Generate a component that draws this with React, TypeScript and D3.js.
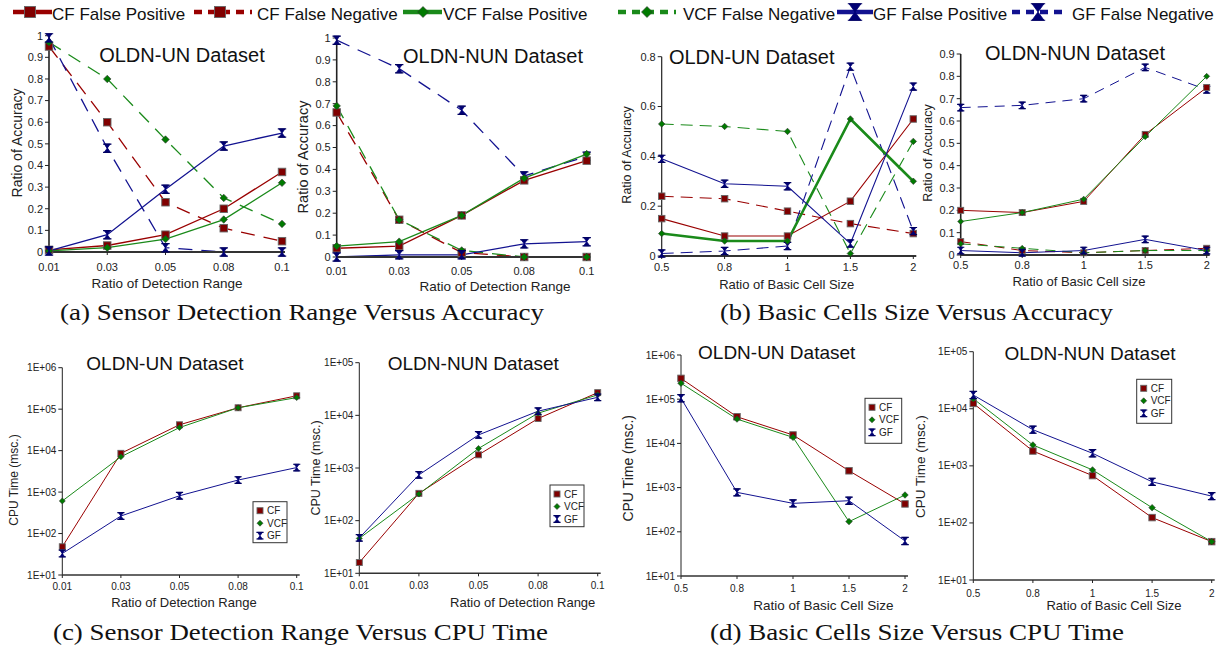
import React from "react";
import * as d3 from "d3";

// categories
const rangeCats = ["0.01", "0.03", "0.05", "0.08", "0.1"];
const cellCats = ["0.5", "0.8", "1", "1.5", "2"];

// (a) accuracy vs detection range, OLDN-UN
const rangeUnCfFp = [0.01, 0.03, 0.08, 0.2, 0.37];
const rangeUnCfFn = [0.95, 0.6, 0.23, 0.11, 0.05];
const rangeUnVcfFp = [0.005, 0.02, 0.06, 0.15, 0.32];
const rangeUnVcfFn = [0.97, 0.8, 0.52, 0.25, 0.13];
const rangeUnGfFp = [0.005, 0.08, 0.29, 0.49, 0.55];
const rangeUnGfFn = [0.99, 0.48, 0.02, 0, 0];
// (a) OLDN-NUN
const rangeNunCfFp = [0.04, 0.05, 0.19, 0.35, 0.44];
const rangeNunCfFn = [0.66, 0.17, 0.02, 0, 0];
const rangeNunVcfFp = [0.05, 0.07, 0.19, 0.36, 0.47];
const rangeNunVcfFn = [0.69, 0.17, 0.03, 0, 0];
const rangeNunGfFp = [0, 0.01, 0.01, 0.06, 0.07];
const rangeNunGfFn = [0.99, 0.86, 0.67, 0.37, 0.46];

// (b) accuracy vs cell size, OLDN-UN
const cellUnCfFp = [0.15, 0.08, 0.08, 0.22, 0.55];
const cellUnCfFn = [0.24, 0.23, 0.18, 0.13, 0.09];
const cellUnVcfFp = [0.09, 0.06, 0.06, 0.55, 0.3];
const cellUnVcfFn = [0.53, 0.52, 0.5, 0.01, 0.46];
const cellUnGfFp = [0.39, 0.29, 0.28, 0.05, 0.68];
const cellUnGfFn = [0.01, 0.02, 0.04, 0.76, 0.1];
// (b) OLDN-NUN
const cellNunCfFp = [0.2, 0.19, 0.24, 0.54, 0.75];
const cellNunCfFn = [0.06, 0.02, 0.01, 0.02, 0.03];
const cellNunVcfFp = [0.15, 0.19, 0.25, 0.53, 0.8];
const cellNunVcfFn = [0.05, 0.03, 0.01, 0.02, 0.02];
const cellNunGfFp = [0.02, 0.01, 0.02, 0.07, 0.02];
const cellNunGfFn = [0.66, 0.67, 0.7, 0.84, 0.74];

// (c) cpu time vs detection range
const cpuRangeUnCf = [48, 8600, 42000, 108000, 210000];
const cpuRangeUnVcf = [610, 7100, 36000, 108000, 190000];
const cpuRangeUnGf = [33, 265, 815, 1950, 3900];
const cpuRangeNunCf = [16, 330, 1780, 8700, 27000];
const cpuRangeNunVcf = [46, 320, 2350, 11000, 24500];
const cpuRangeNunGf = [47, 740, 4250, 12000, 22000];

// (d) cpu time vs cell size
const cpuCellUnCf = [296000, 40000, 15500, 2400, 427];
const cpuCellUnVcf = [230000, 35500, 13700, 170, 680];
const cpuCellUnGf = [105000, 780, 440, 505, 62];
const cpuCellNunCf = [12400, 1820, 675, 124, 47];
const cpuCellNunVcf = [15000, 2320, 850, 185, 47];
const cpuCellNunGf = [17400, 4300, 1660, 525, 295];

const accTicksA = d3.range(0, 11).map((d) => d / 10);
const accTicksB1 = [0, 0.2, 0.4, 0.6, 0.8];
const accTicksB2 = d3.range(0, 10).map((d) => d / 10);

const RED = "#990000";
const GREEN = "#1a8a1a";
const BLUE = "#121290";
const SANS = "'Liberation Sans', Arial, sans-serif";

type MarkerType = "square" | "diamond" | "hourglass";
type Series = { values: number[]; color: string; dashed: boolean; marker: MarkerType; width: number };

const Marker = ({ type, x, y, s }: { type: MarkerType; x: number; y: number; s: number }) => {
  if (type === "square")
    return <rect x={x - s / 2} y={y - s / 2} width={s} height={s} fill="#800000" stroke="#666" strokeWidth={0.9} />;
  if (type === "diamond") {
    const h = s / 2;
    return (
      <path d={`M${x},${y - h}L${x + h},${y}L${x},${y + h}L${x - h},${y}Z`} fill="#007a00" stroke="#333" strokeWidth={0.6} />
    );
  }
  const w = s * 0.4;
  const h = s * 0.55;
  return (
    <g>
      <path d={`M${x - w},${y - h}L${x + w},${y - h}L${x},${y}Z M${x - w},${y + h}L${x + w},${y + h}L${x},${y}Z`} fill="#000075" stroke="#000075" strokeWidth={0.8} />
      <path d={`M${x - w - 1.2},${y - h}H${x + w + 1.2}M${x - w - 1.2},${y + h}H${x + w + 1.2}`} stroke="#000060" strokeWidth={1.2} />
    </g>
  );
};

const accSeries = (
  cfFp: number[], cfFn: number[], vcfFp: number[], vcfFn: number[], gfFp: number[], gfFn: number[], w: number, vcfFpW = w
): Series[] => [
  { values: cfFn, color: RED, dashed: true, marker: "square", width: w },
  { values: vcfFn, color: GREEN, dashed: true, marker: "diamond", width: w },
  { values: gfFn, color: BLUE, dashed: true, marker: "hourglass", width: w },
  { values: cfFp, color: RED, dashed: false, marker: "square", width: w },
  { values: vcfFp, color: GREEN, dashed: false, marker: "diamond", width: vcfFpW },
  { values: gfFp, color: BLUE, dashed: false, marker: "hourglass", width: w },
];

const cpuSeries = (cf: number[], vcf: number[], gf: number[]): Series[] => [
  { values: cf, color: RED, dashed: false, marker: "square", width: 1 },
  { values: vcf, color: GREEN, dashed: false, marker: "diamond", width: 1 },
  { values: gf, color: BLUE, dashed: false, marker: "hourglass", width: 1 },
];

type PanelCfg = {
  cats: string[];
  x0: number; x1: number; yTop: number; yBot: number;
  log: boolean; domain: [number, number]; ticks: number[];
  series: Series[];
  dash?: string; ms: number;
  title: string; titleX: number; titleY: number; titleFs: number;
  xLabel: string; xLabelX: number; xLabelY: number; xFs: number;
  yLabel: string; yLabelX: number; yLabelY: number; yFs: number;
  tickY: number; tickFs: number;
  axisW: number;
  legend?: { x: number; y: number; w: number; h: number };
};

const Panel = ({ p }: { p: PanelCfg }) => {
  const x = d3.scalePoint<string>().domain(p.cats).range([p.x0, p.x1]);
  const y = p.log
    ? d3.scaleLog().domain(p.domain).range([p.yBot, p.yTop])
    : d3.scaleLinear().domain(p.domain).range([p.yBot, p.yTop]);
  const line = d3.line<number>().x((_, i) => x(p.cats[i]) as number).y((d) => y(d));
  const fmt = (t: number) => (p.log ? `1E+0${Math.round(Math.log10(t))}` : String(+t.toFixed(1)));
  return (
    <g fontFamily={SANS}>
      {p.series.map((s, i) => (
        <path key={i} d={line(s.values) || ""} fill="none" stroke={s.color} strokeWidth={s.width}
          strokeDasharray={s.dashed ? p.dash : undefined} />
      ))}
      <line x1={p.x0} x2={p.x0} y1={p.yBot} y2={p.yTop} stroke="#222" strokeWidth={p.axisW} />
      <line x1={p.x0} x2={p.x1 + 3} y1={p.yBot} y2={p.yBot} stroke="#333" strokeWidth={p.axisW + 0.6} />
      {p.ticks.map((t) => (
        <g key={t}>
          <line x1={p.x0 - 4} x2={p.x0} y1={y(t)} y2={y(t)} stroke="#222" strokeWidth={1} />
          <text x={p.x0 - 6} y={y(t)} dy="0.35em" textAnchor="end" fontSize={p.tickFs} fill="#222">{fmt(t)}</text>
        </g>
      ))}
      {p.cats.map((c) => (
        <g key={c}>
          <line x1={x(c)} x2={x(c)} y1={p.yBot} y2={p.yBot + 3} stroke="#222" strokeWidth={1} />
          <text x={x(c)} y={p.tickY} textAnchor="middle" fontSize={p.tickFs} fill="#222">{c}</text>
        </g>
      ))}
      {p.series.map((s, i) => (
        <g key={i}>
          {s.values.map((v, j) => (
            <Marker key={j} type={s.marker} x={x(p.cats[j]) as number} y={y(v)} s={p.ms} />
          ))}
        </g>
      ))}
      <text x={p.titleX} y={p.titleY} textAnchor="middle" fontSize={p.titleFs} fill="#111">{p.title}</text>
      <text x={p.xLabelX} y={p.xLabelY} textAnchor="middle" fontSize={p.xFs} fill="#222">{p.xLabel}</text>
      <text transform={`translate(${p.yLabelX},${p.yLabelY}) rotate(-90)`} dy="0.35em" textAnchor="middle" fontSize={p.yFs} fill="#222">{p.yLabel}</text>
      {p.legend && (
        <g>
          <rect x={p.legend.x} y={p.legend.y} width={p.legend.w} height={p.legend.h} fill="white" stroke="#333" strokeWidth={1} />
          {(["CF", "VCF", "GF"] as const).map((n, i) => {
            const ry = p.legend!.y + 9 + i * 12.5;
            const mt: MarkerType = i === 0 ? "square" : i === 1 ? "diamond" : "hourglass";
            return (
              <g key={n}>
                <Marker type={mt} x={p.legend!.x + 7} y={ry} s={6} />
                <text x={p.legend!.x + 14} y={ry} dy="0.35em" fontSize={10} fill="#222">{n}</text>
              </g>
            );
          })}
        </g>
      )}
    </g>
  );
};

const panels: PanelCfg[] = [
  {
    cats: rangeCats, x0: 49, x1: 282, yTop: 35.7, yBot: 252, log: false, domain: [0, 1], ticks: accTicksA,
    series: accSeries(rangeUnCfFp, rangeUnCfFn, rangeUnVcfFp, rangeUnVcfFn, rangeUnGfFp, rangeUnGfFn, 1.3),
    dash: "14,9", ms: 7.5,
    title: "OLDN-UN Dataset", titleX: 182, titleY: 62, titleFs: 20,
    xLabel: "Ratio of Detection Range", xLabelX: 167, xLabelY: 288, xFs: 13.5,
    yLabel: "Ratio of Accuracy", yLabelX: 17, yLabelY: 143, yFs: 14,
    tickY: 270.5, tickFs: 11, axisW: 1.6,
  },
  {
    cats: rangeCats, x0: 336.7, x1: 586.7, yTop: 38, yBot: 257, log: false, domain: [0, 1], ticks: accTicksA,
    series: accSeries(rangeNunCfFp, rangeNunCfFn, rangeNunVcfFp, rangeNunVcfFn, rangeNunGfFp, rangeNunGfFn, 1.3),
    dash: "14,9", ms: 7.5,
    title: "OLDN-NUN Dataset", titleX: 493, titleY: 63, titleFs: 20,
    xLabel: "Ratio of Detection Range", xLabelX: 495, xLabelY: 291, xFs: 13.5,
    yLabel: "Ratio of Accuracy", yLabelX: 303, yLabelY: 157, yFs: 14.5,
    tickY: 274.5, tickFs: 11, axisW: 1.6,
  },
  {
    cats: cellCats, x0: 661.7, x1: 913.3, yTop: 56.7, yBot: 256, log: false, domain: [0, 0.8], ticks: accTicksB1,
    series: accSeries(cellUnCfFp, cellUnCfFn, cellUnVcfFp, cellUnVcfFn, cellUnGfFp, cellUnGfFn, 1.1, 2.6),
    dash: "12,7", ms: 6.5,
    title: "OLDN-UN Dataset", titleX: 751.7, titleY: 64, titleFs: 20,
    xLabel: "Ratio of Basic Cell Size", xLabelX: 786.7, xLabelY: 288.5, xFs: 13,
    yLabel: "Ratio of Accuracy", yLabelX: 627, yLabelY: 155, yFs: 12.5,
    tickY: 270.5, tickFs: 11, axisW: 1.2,
  },
  {
    cats: cellCats, x0: 960.7, x1: 1206.7, yTop: 54, yBot: 255, log: false, domain: [0, 0.9], ticks: accTicksB2,
    series: accSeries(cellNunCfFp, cellNunCfFn, cellNunVcfFp, cellNunVcfFn, cellNunGfFp, cellNunGfFn, 1),
    dash: "10,7", ms: 6,
    title: "OLDN-NUN Dataset", titleX: 1075, titleY: 60, titleFs: 20,
    xLabel: "Ratio of Basic Cell size", xLabelX: 1079, xLabelY: 286, xFs: 13,
    yLabel: "Ratio of Accuracy", yLabelX: 928, yLabelY: 153, yFs: 12.5,
    tickY: 269, tickFs: 11, axisW: 1.6,
  },
  {
    cats: rangeCats, x0: 62.3, x1: 296.7, yTop: 367.7, yBot: 575, log: true, domain: [10, 1e6],
    ticks: [1e1, 1e2, 1e3, 1e4, 1e5, 1e6],
    series: cpuSeries(cpuRangeUnCf, cpuRangeUnVcf, cpuRangeUnGf), ms: 6,
    title: "OLDN-UN Dataset", titleX: 165, titleY: 370, titleFs: 19,
    xLabel: "Ratio of Detection Range", xLabelX: 184, xLabelY: 607, xFs: 13,
    yLabel: "CPU Time (msc.)", yLabelX: 13.3, yLabelY: 480, yFs: 12,
    tickY: 590, tickFs: 10, axisW: 1,
    legend: { x: 253, y: 501.7, w: 34, h: 41 },
  },
  {
    cats: rangeCats, x0: 359.3, x1: 597.7, yTop: 362.7, yBot: 573.3, log: true, domain: [10, 1e5],
    ticks: [1e1, 1e2, 1e3, 1e4, 1e5],
    series: cpuSeries(cpuRangeNunCf, cpuRangeNunVcf, cpuRangeNunGf), ms: 6,
    title: "OLDN-NUN Dataset", titleX: 473.3, titleY: 370, titleFs: 19,
    xLabel: "Ratio of Detection Range", xLabelX: 522.7, xLabelY: 607, xFs: 13,
    yLabel: "CPU Time (msc.)", yLabelX: 316, yLabelY: 468, yFs: 12.5,
    tickY: 589, tickFs: 10, axisW: 1,
    legend: { x: 550, y: 485, w: 34, h: 41.7 },
  },
  {
    cats: cellCats, x0: 681, x1: 905, yTop: 355, yBot: 576, log: true, domain: [10, 1e6],
    ticks: [1e1, 1e2, 1e3, 1e4, 1e5, 1e6],
    series: cpuSeries(cpuCellUnCf, cpuCellUnVcf, cpuCellUnGf), ms: 6.5,
    title: "OLDN-UN Dataset", titleX: 776.7, titleY: 358.7, titleFs: 19,
    xLabel: "Ratio of Basic Cell Size", xLabelX: 823.3, xLabelY: 609.5, xFs: 13.5,
    yLabel: "CPU Time (msc.)", yLabelX: 628.3, yLabelY: 468.3, yFs: 14,
    tickY: 592, tickFs: 10, axisW: 1,
    legend: { x: 865, y: 398.3, w: 36.7, h: 45 },
  },
  {
    cats: cellCats, x0: 973.3, x1: 1211.7, yTop: 351.7, yBot: 580, log: true, domain: [10, 1e5],
    ticks: [1e1, 1e2, 1e3, 1e4, 1e5],
    series: cpuSeries(cpuCellNunCf, cpuCellNunVcf, cpuCellNunGf), ms: 6.5,
    title: "OLDN-NUN Dataset", titleX: 1090, titleY: 360, titleFs: 19,
    xLabel: "Ratio of Basic Cell Size", xLabelX: 1114, xLabelY: 610, xFs: 13,
    yLabel: "CPU Time (msc.)", yLabelX: 920, yLabelY: 466.7, yFs: 13.5,
    tickY: 597, tickFs: 10, axisW: 1,
    legend: { x: 1136.7, y: 379.3, w: 35, h: 44 },
  },
];

const legendItems = [
  { label: "CF False Positive", color: RED, dashed: false, marker: "square" as MarkerType, lx1: 13, lx2: 52, mx: 30, tx: 52 },
  { label: "CF False Negative", color: RED, dashed: true, marker: "square" as MarkerType, lx1: 194, lx2: 252, mx: 220, tx: 257 },
  { label: "VCF False Positive", color: GREEN, dashed: false, marker: "diamond" as MarkerType, lx1: 403, lx2: 442, mx: 423, tx: 443 },
  { label: "VCF False Negative", color: GREEN, dashed: true, marker: "diamond" as MarkerType, lx1: 618, lx2: 676, mx: 647, tx: 683 },
  { label: "GF False Positive", color: BLUE, dashed: false, marker: "hourglass" as MarkerType, lx1: 837, lx2: 873, mx: 855, tx: 873 },
  { label: "GF False Negative", color: BLUE, dashed: true, marker: "hourglass" as MarkerType, lx1: 1012, lx2: 1067, mx: 1038, tx: 1072 },
];

const captions = [
  { text: "(a) Sensor Detection Range Versus Accuracy", x: 60, y: 320, len: 484 },
  { text: "(b) Basic Cells Size Versus Accuracy", x: 720, y: 320, len: 393 },
  { text: "(c) Sensor Detection Range Versus CPU Time", x: 53, y: 640, len: 495 },
  { text: "(d) Basic Cells Size Versus CPU Time", x: 710, y: 640, len: 414 },
];

export default function App() {
  return (
    <svg width={1219} height={649} style={{ position: "absolute", left: 0, top: 0, background: "white" }}>
      <rect width={1219} height={649} fill="white" />
      {legendItems.map((it) => (
        <g key={it.label}>
          <line x1={it.lx1} x2={it.lx2} y1={12} y2={12} stroke={it.color} strokeWidth={4.5}
            strokeDasharray={it.dashed ? "8,6" : undefined} />
          <Marker type={it.marker} x={it.mx} y={12} s={it.marker === "hourglass" ? 15 : 11} />
          <text x={it.tx} y={19.5} fontSize={17} fontFamily={SANS} fill="#111">{it.label}</text>
        </g>
      ))}
      {panels.map((p, i) => (
        <Panel key={i} p={p} />
      ))}
      {captions.map((c) => (
        <text key={c.text} x={c.x} y={c.y} fontSize={23} fontFamily="'Liberation Serif', 'Times New Roman', serif"
          textLength={c.len} lengthAdjust="spacingAndGlyphs" fill="#111">{c.text}</text>
      ))}
    </svg>
  );
}
